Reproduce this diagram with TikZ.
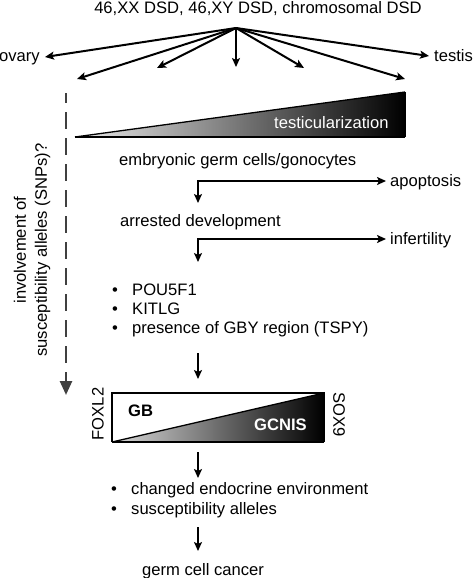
\documentclass[tikz,border=0pt]{standalone}
\usepackage{fontspec}
\setmainfont{Liberation Sans}
\usetikzlibrary{arrows.meta}
\begin{document}
\begin{tikzpicture}[x=1pt,y=-1pt,
  txt/.style={inner sep=0pt, font=\fontsize{16.6}{20}\selectfont},
  btxt/.style={inner sep=0pt, font=\fontsize{16.6}{20}\selectfont\bfseries},
  arr/.style={line width=2pt, -{Stealth[length=9pt,width=8pt,inset=2pt]}},
  dasharr/.style={line width=2.6pt, draw=black!75, dash pattern=on 17pt off 9pt, dash phase=7pt,
    -{Triangle[length=14pt,width=12pt,fill=black!75]}},
  ]
\useasboundingbox (0,0) rectangle (474,578);

% title and fan of arrows
\node[txt, anchor=base] (title) at (258,14) {46,XX DSD, 46,XY DSD, chromosomal DSD};
\coordinate (src) at (236,28);
\node[txt, anchor=base east] (ovary) at (40,61.5) {ovary};
\node[txt, anchor=base west] (testis) at (434,61.5) {testis};
\coordinate (e1) at (45,57);
\coordinate (e2) at (77,79);
\coordinate (e3) at (157,68);
\coordinate (e4) at (236,67);
\coordinate (e5) at (304,68);
\coordinate (e6) at (405,79);
\coordinate (e7) at (429,56);
\foreach \e in {e1,e2,e3,e4,e5,e6,e7}
  \draw[arr] (src) -- (\e);

% testicularization wedge
\coordinate (tA) at (75,137);
\coordinate (tB) at (405,92);
\coordinate (tC) at (405,137);
\shade[left color=white!92!black, middle color=black!62, right color=black] (tA) -- (tB) -- (tC) -- cycle;
\draw[line width=1.3pt] (tA) -- (tB);
\draw[line width=1.5pt] (tB) -- (tC);
\draw[line width=2.6pt] (tA) -- (tC);
\node[txt, anchor=base west, text=white] (testic) at (274,128.5) {testicularization};

% dashed arrow and rotated label
\coordinate (dtop) at (66,93);
\coordinate (dbot) at (66,395);
\draw[dasharr] (dtop) -- (dbot);
\node[txt, rotate=90, align=center, font=\fontsize{16.6}{21}\selectfont] (snp) at (32,250)
  {involvement of\\susceptibility alleles (SNPs)?};

% germ cell development
\node[txt, anchor=base west] (emb) at (119,165.7) {embryonic germ cells/gonocytes};
\coordinate (b1s) at (198,203);
\coordinate (b1e) at (386,181);
\draw[line width=2pt, {Stealth[length=9pt,width=8pt,inset=2pt]}-{Stealth[length=9pt,width=8pt,inset=2pt]}]
  (b1s) |- (b1e);
\node[txt, anchor=base west] (apop) at (390,186) {apoptosis};

\node[txt, anchor=base west] (arr1) at (120,226) {arrested development};
\coordinate (b2s) at (198,262);
\coordinate (b2e) at (386,239);
\draw[line width=2pt, {Stealth[length=9pt,width=8pt,inset=2pt]}-{Stealth[length=9pt,width=8pt,inset=2pt]}]
  (b2s) |- (b2e);
\node[txt, anchor=base west] (infert) at (390,244.5) {infertility};

% bullets
\node[txt, anchor=base west] (bu1) at (112,295) {\textbullet};
\node[txt, anchor=base west] (l1) at (132,295) {POU5F1};
\node[txt, anchor=base west] (bu2) at (112,314.5) {\textbullet};
\node[txt, anchor=base west] (l2) at (132,314.5) {KITLG};
\node[txt, anchor=base west] (bu3) at (112,333.5) {\textbullet};
\node[txt, anchor=base west] (l3) at (132,333.5) {presence of GBY region (TSPY)};

\coordinate (a1s) at (198,353);
\coordinate (a1e) at (198,379);
\draw[arr] (a1s) -- (a1e);

% GB / GCNIS box
\coordinate (gA) at (112,442);
\coordinate (gB) at (324,393);
\coordinate (gC) at (324,442);
\coordinate (gD) at (112,393);
\shade[left color=white!85!black, middle color=black!55, right color=black] (gA) -- (gB) -- (gC) -- cycle;
\draw[line width=1.3pt] (gA) -- (gB);
\draw[line width=2pt] (gA) -- (gD) -- (gB) -- (gC);
\draw[line width=2.6pt] (gA) -- (gC);
\node[btxt, anchor=base west] (gb) at (128,416.7) {GB};
\node[btxt, anchor=base west, text=white] (gcnis) at (254,430) {GCNIS};
\node[txt, rotate=90] (foxl2) at (98,414) {FOXL2};
\node[txt, rotate=-90] (sox9) at (339,415) {SOX9};

\coordinate (a2s) at (198,452);
\coordinate (a2e) at (198,478);
\draw[arr] (a2s) -- (a2e);

\node[txt, anchor=base west] (bu4) at (111,494) {\textbullet};
\node[txt, anchor=base west] (l4) at (131,494) {changed endocrine environment};
\node[txt, anchor=base west] (bu5) at (111,514) {\textbullet};
\node[txt, anchor=base west] (l5) at (131,514) {susceptibility alleles};

\coordinate (a3s) at (198,527);
\coordinate (a3e) at (198,551);
\draw[arr] (a3s) -- (a3e);

\node[txt, anchor=base west] (gcc) at (142,575) {germ cell cancer};
\end{tikzpicture}
\end{document}
